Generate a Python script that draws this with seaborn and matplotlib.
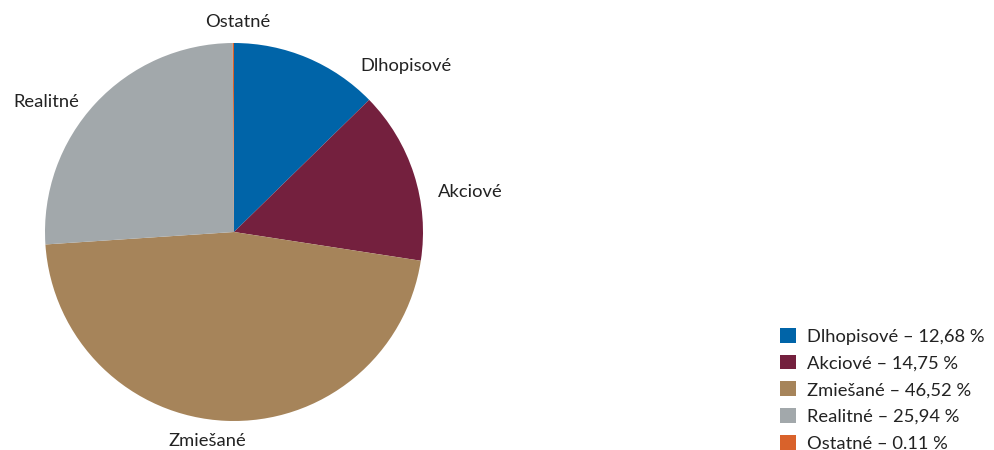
import matplotlib
matplotlib.use("Agg")
import matplotlib.pyplot as plt
from matplotlib.patches import Patch
import seaborn as sns

categories = ["Dlhopisové", "Akciové", "Zmiešané", "Realitné", "Ostatné"]
values = [12.68, 14.75, 46.52, 25.94, 0.11]
value_labels = ["12,68", "14,75", "46,52", "25,94", "0.11"]
colors = ["#0064A8", "#74203E", "#A6845A", "#A2A8AB", "#D9622B"]

sns.set_theme(style="white")
plt.rcParams["font.family"] = ["Lato", "DejaVu Sans"]

fig = plt.figure(figsize=(9.95, 4.5), dpi=100)
ax = fig.add_axes([45 / 995, 29 / 450, 378 / 995, 378 / 450])
ax.pie(values, colors=colors, startangle=90, counterclock=False,
       wedgeprops=dict(linewidth=0))
ax.set_xlim(-1, 1)
ax.set_ylim(-1, 1)
ax.set_aspect("equal")
ax.axis("off")

label_pos = {
    "Dlhopisové": (0.91, 0.878),
    "Akciové": (1.249, 0.212),
    "Zmiešané": (-0.143, -1.106),
    "Realitné": (-0.995, 0.688),
    "Ostatné": (0.021, 1.111),
}
for c in categories:
    x, y = label_pos[c]
    ax.text(x, y, c, ha="center", va="center", fontsize=13.2,
            color="#222222", clip_on=False)

handles = [Patch(facecolor=col, edgecolor="none") for col in colors]
labels = [f"{c} – {v} %" for c, v in zip(categories, value_labels)]
fig.legend(handles, labels, loc="upper left",
           bbox_to_anchor=(780 / 995, 1 - 328 / 450),
           frameon=False, fontsize=13.2, handlelength=0.85, handleheight=0.85,
           handletextpad=0.6, labelspacing=0.55, borderpad=0,
           borderaxespad=0, labelcolor="#222222")

fig.savefig("out.png", dpi=100)
